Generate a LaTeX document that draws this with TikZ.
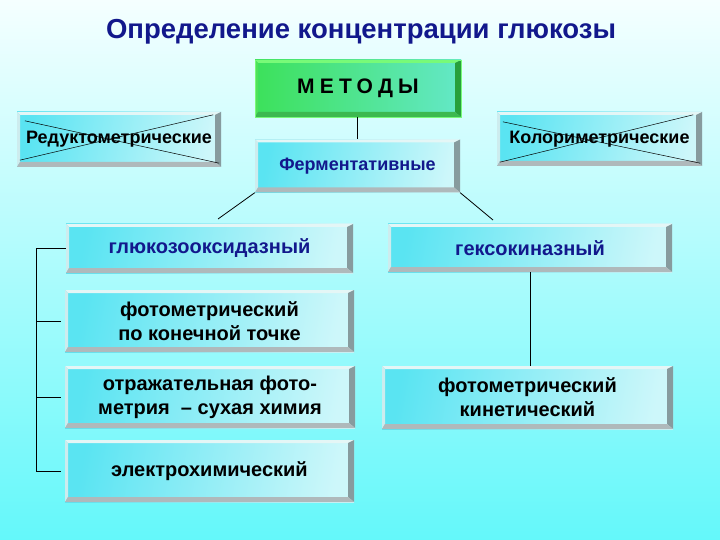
\documentclass[tikz,border=0pt]{standalone}
\usepackage{fontspec}
\setmainfont{Liberation Sans}
\usetikzlibrary{calc}
\definecolor{navy}{RGB}{18,24,140}
\definecolor{bgtop}{RGB}{245,255,255}
\definecolor{bgbot}{RGB}{100,248,250}
\definecolor{facecyan}{RGB}{90,228,242}
\definecolor{facelight}{RGB}{240,253,253}
\definecolor{facemid}{RGB}{205,247,250}
\definecolor{bevtop}{RGB}{228,246,246}
\definecolor{bevleft}{RGB}{205,236,238}
\definecolor{bevright}{RGB}{135,155,158}
\definecolor{bevbot}{RGB}{175,185,187}
\definecolor{gfaceL}{RGB}{60,225,90}
\definecolor{gfaceR}{RGB}{100,232,200}
\definecolor{gbevtop}{RGB}{120,250,120}
\definecolor{gbevleft}{RGB}{80,225,90}
\definecolor{gbevright}{RGB}{40,160,60}
\definecolor{gbevbot}{RGB}{60,185,80}
\tikzset{
  bevelpic/.style n args={4}{path picture={
    \coordinate (ppnw) at (path picture bounding box.north west);
    \coordinate (ppne) at (path picture bounding box.north east);
    \coordinate (ppsw) at (path picture bounding box.south west);
    \coordinate (ppse) at (path picture bounding box.south east);
    \coordinate (pinw) at ([xshift=3pt,yshift=-3pt]ppnw);
    \coordinate (pine) at ([xshift=-6pt,yshift=-3pt]ppne);
    \coordinate (pisw) at ([xshift=3pt,yshift=5pt]ppsw);
    \coordinate (pise) at ([xshift=-6pt,yshift=5pt]ppse);
    \fill[#1] (ppnw) -- (ppne) -- (pine) -- (pinw) -- cycle;
    \fill[#2] (ppnw) -- (pinw) -- (pisw) -- (ppsw) -- cycle;
    \fill[#3] (ppne) -- (ppse) -- (pise) -- (pine) -- cycle;
    \fill[#4] (ppsw) -- (ppse) -- (pise) -- (pisw) -- cycle;
  }},
  bevbox/.style={shading=axis, left color=facecyan, middle color=facelight,
    right color=facemid, shading angle=80, inner sep=0pt, align=center,
    font=\bfseries\fontsize{20}{24}\selectfont,
    bevelpic={bevtop}{bevleft}{bevright}{bevbot}},
  greenbox/.style={shading=axis, left color=gfaceL, right color=gfaceR,
    inner sep=0pt, draw=gbevtop, line width=0.8pt,
    font=\bfseries\fontsize{21}{24}\selectfont,
    bevelpic={gbevtop}{gbevleft}{gbevright}{gbevbot}},
  link/.style={draw=black, line width=0.8pt},
  cross/.style={draw=black, line width=0.5pt}
}
\begin{document}
\begin{tikzpicture}[x=1pt,y=-1pt]
\shade[top color=bgtop, bottom color=bgbot] (0,0) rectangle (720,540);
\useasboundingbox (0,0) rectangle (720,540);

\node[text=navy, font=\bfseries\fontsize{27.5}{30}\selectfont] (title) at (361,32)
  {Определение концентрации глюкозы};

\node[greenbox, minimum width=206pt, minimum height=57pt] (metody) at (358,88.5)
  {\addfontfeatures{LetterSpace=25}МЕТОДЫ};

\node[bevbox, minimum width=204pt, minimum height=55pt] (red) at (119,139.5)
  {\fontsize{18}{21}\selectfont Редуктометрические};
\node[bevbox, minimum width=205pt, minimum height=54pt] (kol) at (599.5,139)
  {\fontsize{18}{21}\selectfont Колориметрические};
\node[bevbox, minimum width=205pt, minimum height=53pt, text=navy] (ferm) at (357.5,166)
  {\fontsize{18}{21}\selectfont Ферментативные};

\node[bevbox, minimum width=287pt, minimum height=49pt, text=navy] (gox) at (209.5,248.5)
  {глюкозооксидазный};
\node[bevbox, minimum width=284pt, minimum height=48pt, text=navy] (hex) at (530,248)
  {гексокиназный};
\node[bevbox, minimum width=289pt, minimum height=62pt] (fkt) at (209.5,321)
  {фотометрический\\по конечной точке};
\node[bevbox, minimum width=290pt, minimum height=62pt] (otr) at (210,397)
  {отражательная фото-\\метрия\ \ – сухая химия};
\node[bevbox, minimum width=289pt, minimum height=62pt] (el) at (209.5,471)
  {электрохимический};
\node[bevbox, minimum width=291pt, minimum height=63pt] (kin) at (527.5,397.5)
  {фотометрический\\кинетический};

% crossed-out boxes
\draw[cross] ([xshift=8pt,yshift=-9pt]red.north west) -- ([xshift=-2pt,yshift=4pt]red.south east);
\draw[cross] ([xshift=3pt,yshift=7pt]red.south west) -- ([xshift=-8pt,yshift=-3pt]red.north east);
\draw[cross] ([xshift=6pt,yshift=-10pt]kol.north west) -- ([xshift=-2pt,yshift=3pt]kol.south east);
\draw[cross] ([xshift=3pt,yshift=4pt]kol.south west) -- ([xshift=-9pt,yshift=-3pt]kol.north east);

% connectors
\coordinate (fl) at (218,219);
\coordinate (fr) at (493,220);
\coordinate (brk) at (36,248);
\draw[link] (metody.south -| ferm.north) -- (ferm.north);
\draw[link] (ferm.south west) -- (fl);
\draw[link] (ferm.south east) -- (fr);
\draw[link] (hex.south) -- (hex.south |- kin.north);
\draw[link] (gox.west) -- (gox.west -| brk) -- (el.west -| brk) -- ([xshift=-4pt]el.west);
\draw[link] ([xshift=-4pt]fkt.west) -- (fkt.west -| brk);
\draw[link] ([xshift=-4pt]otr.west) -- (otr.west -| brk);
\end{tikzpicture}
\end{document}
